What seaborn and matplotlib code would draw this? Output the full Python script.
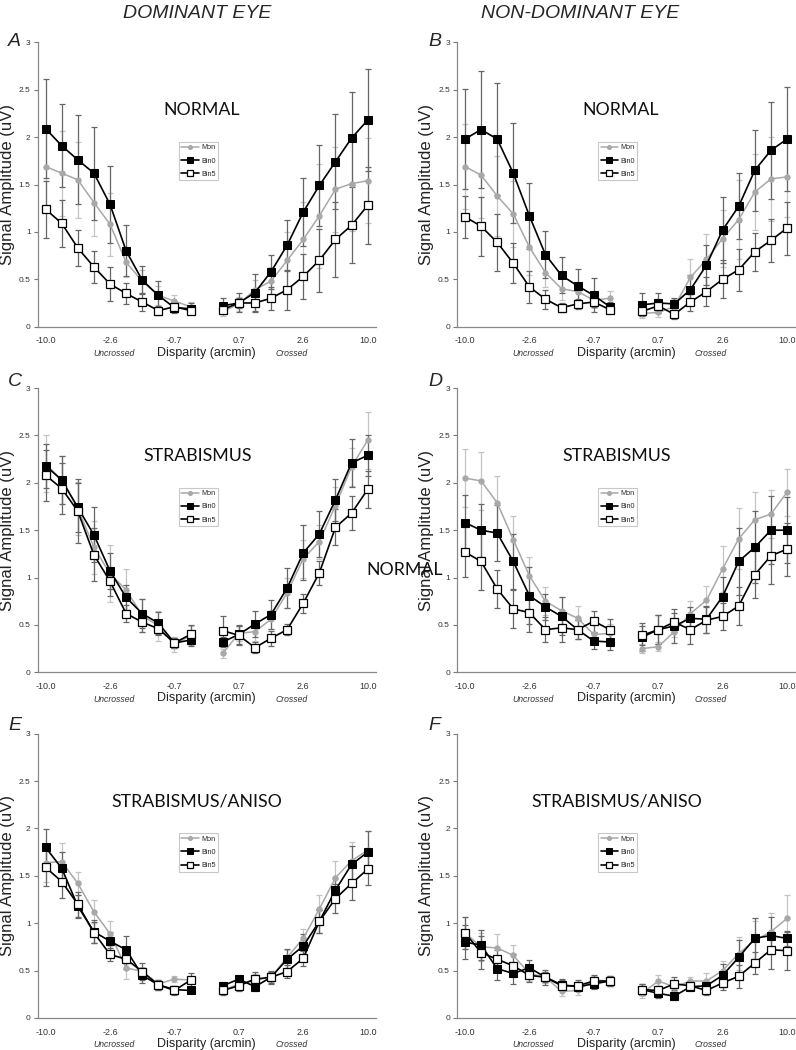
import numpy as np
import pandas as pd
import matplotlib
matplotlib.use("Agg")
import matplotlib.pyplot as plt
import seaborn as sns

# disparity categories: 10 uncrossed, gap, 10 crossed
x_left = list(range(10))
x_right = list(range(11, 21))
tick_pos = [0, 4, 8, 12, 16, 20]
tick_labels = ["-10.0", "-2.6", "-0.7", "0.7", "2.6", "10.0"]
series = ["Mon", "Bin0", "Bin5"]

# values: first 10 = uncrossed, last 10 = crossed
A_mon = [1.69, 1.62, 1.55, 1.31, 1.08, 0.68, 0.48, 0.33, 0.27, 0.21, 0.16, 0.24, 0.39, 0.48, 0.70, 0.92, 1.17, 1.45, 1.51, 1.54]
A_mon_err = [0.42, 0.45, 0.40, 0.35, 0.33, 0.16, 0.12, 0.10, 0.06, 0.05, 0.05, 0.07, 0.10, 0.15, 0.30, 0.40, 0.55, 0.45, 0.50, 0.45]
A_bin0 = [2.09, 1.91, 1.76, 1.62, 1.29, 0.80, 0.49, 0.33, 0.20, 0.19, 0.22, 0.25, 0.36, 0.58, 0.86, 1.21, 1.49, 1.74, 1.99, 2.18]
A_bin0_err = [0.52, 0.44, 0.47, 0.49, 0.41, 0.27, 0.15, 0.15, 0.06, 0.06, 0.08, 0.10, 0.20, 0.18, 0.27, 0.36, 0.43, 0.50, 0.49, 0.54]
A_bin5 = [1.24, 1.09, 0.83, 0.63, 0.45, 0.35, 0.26, 0.17, 0.21, 0.17, 0.18, 0.25, 0.25, 0.30, 0.39, 0.53, 0.70, 0.92, 1.07, 1.28]
A_bin5_err = [0.30, 0.25, 0.19, 0.17, 0.18, 0.11, 0.09, 0.05, 0.05, 0.04, 0.05, 0.05, 0.10, 0.12, 0.21, 0.24, 0.33, 0.40, 0.40, 0.41]

B_mon = [1.69, 1.60, 1.38, 1.19, 0.84, 0.57, 0.40, 0.37, 0.28, 0.30, 0.14, 0.15, 0.21, 0.52, 0.71, 0.93, 1.13, 1.42, 1.56, 1.58]
B_mon_err = [0.45, 0.45, 0.42, 0.35, 0.30, 0.15, 0.12, 0.10, 0.08, 0.08, 0.05, 0.05, 0.08, 0.19, 0.27, 0.30, 0.42, 0.40, 0.44, 0.42]
B_bin0 = [1.98, 2.08, 1.98, 1.62, 1.17, 0.76, 0.54, 0.43, 0.33, 0.21, 0.23, 0.25, 0.24, 0.39, 0.65, 1.02, 1.27, 1.65, 1.86, 1.98]
B_bin0_err = [0.53, 0.62, 0.59, 0.53, 0.35, 0.25, 0.19, 0.18, 0.18, 0.05, 0.12, 0.11, 0.06, 0.16, 0.21, 0.35, 0.35, 0.43, 0.51, 0.55]
B_bin5 = [1.16, 1.06, 0.89, 0.67, 0.42, 0.29, 0.20, 0.24, 0.26, 0.18, 0.16, 0.22, 0.13, 0.26, 0.37, 0.50, 0.60, 0.79, 0.91, 1.04]
B_bin5_err = [0.22, 0.31, 0.30, 0.21, 0.17, 0.10, 0.05, 0.05, 0.05, 0.04, 0.05, 0.07, 0.05, 0.10, 0.15, 0.20, 0.22, 0.20, 0.23, 0.28]

C_mon = [2.20, 2.03, 1.73, 1.32, 1.04, 0.87, 0.60, 0.49, 0.29, 0.39, 0.20, 0.41, 0.43, 0.56, 0.84, 1.20, 1.38, 1.76, 2.17, 2.45]
C_mon_err = [0.30, 0.25, 0.28, 0.28, 0.30, 0.22, 0.17, 0.16, 0.08, 0.10, 0.05, 0.08, 0.10, 0.10, 0.16, 0.20, 0.18, 0.20, 0.20, 0.30]
C_bin0 = [2.18, 2.03, 1.74, 1.45, 1.07, 0.79, 0.62, 0.52, 0.31, 0.34, 0.32, 0.40, 0.51, 0.61, 0.89, 1.26, 1.46, 1.82, 2.21, 2.29]
C_bin0_err = [0.23, 0.25, 0.26, 0.29, 0.19, 0.13, 0.15, 0.12, 0.05, 0.06, 0.05, 0.10, 0.14, 0.15, 0.21, 0.29, 0.24, 0.22, 0.25, 0.22]
C_bin5 = [2.08, 1.94, 1.70, 1.24, 0.96, 0.62, 0.53, 0.46, 0.31, 0.40, 0.44, 0.39, 0.26, 0.36, 0.45, 0.73, 1.05, 1.53, 1.68, 1.93]
C_bin5_err = [0.27, 0.27, 0.34, 0.28, 0.15, 0.09, 0.10, 0.07, 0.05, 0.10, 0.15, 0.10, 0.06, 0.08, 0.06, 0.10, 0.13, 0.19, 0.18, 0.20]

D_mon = [2.05, 2.02, 1.79, 1.40, 1.02, 0.75, 0.65, 0.57, 0.40, 0.41, 0.25, 0.27, 0.43, 0.62, 0.76, 1.09, 1.41, 1.61, 1.67, 1.90]
D_mon_err = [0.31, 0.31, 0.28, 0.25, 0.20, 0.15, 0.14, 0.13, 0.10, 0.10, 0.05, 0.05, 0.06, 0.13, 0.15, 0.24, 0.32, 0.29, 0.25, 0.25]
D_bin0 = [1.58, 1.50, 1.47, 1.17, 0.81, 0.69, 0.59, 0.45, 0.33, 0.32, 0.37, 0.45, 0.49, 0.57, 0.56, 0.80, 1.17, 1.32, 1.50, 1.50]
D_bin0_err = [0.29, 0.28, 0.30, 0.29, 0.30, 0.14, 0.20, 0.10, 0.08, 0.08, 0.15, 0.15, 0.18, 0.12, 0.14, 0.21, 0.35, 0.38, 0.36, 0.35]
D_bin5 = [1.27, 1.17, 0.88, 0.67, 0.63, 0.45, 0.47, 0.45, 0.54, 0.45, 0.39, 0.45, 0.53, 0.45, 0.55, 0.59, 0.70, 1.03, 1.23, 1.30]
D_bin5_err = [0.26, 0.30, 0.20, 0.20, 0.20, 0.13, 0.15, 0.10, 0.11, 0.11, 0.10, 0.15, 0.10, 0.15, 0.14, 0.14, 0.20, 0.25, 0.30, 0.28]

E_mon = [1.64, 1.65, 1.42, 1.12, 0.89, 0.53, 0.49, 0.36, 0.41, 0.40, 0.29, 0.36, 0.40, 0.43, 0.64, 0.84, 1.15, 1.48, 1.66, 1.77]
E_mon_err = [0.20, 0.20, 0.12, 0.12, 0.13, 0.12, 0.05, 0.04, 0.03, 0.03, 0.04, 0.05, 0.06, 0.05, 0.08, 0.10, 0.15, 0.18, 0.20, 0.20]
E_bin0 = [1.80, 1.58, 1.18, 0.91, 0.81, 0.72, 0.45, 0.35, 0.30, 0.29, 0.34, 0.41, 0.33, 0.43, 0.62, 0.76, 1.02, 1.35, 1.62, 1.75]
E_bin0_err = [0.19, 0.17, 0.12, 0.12, 0.10, 0.14, 0.08, 0.05, 0.04, 0.03, 0.04, 0.04, 0.05, 0.07, 0.11, 0.13, 0.12, 0.13, 0.19, 0.22]
E_bin5 = [1.59, 1.44, 1.20, 0.90, 0.67, 0.62, 0.49, 0.35, 0.29, 0.40, 0.29, 0.34, 0.41, 0.43, 0.49, 0.63, 1.02, 1.26, 1.42, 1.57]
E_bin5_err = [0.20, 0.17, 0.13, 0.11, 0.07, 0.10, 0.09, 0.05, 0.05, 0.07, 0.05, 0.06, 0.07, 0.06, 0.07, 0.08, 0.12, 0.15, 0.18, 0.17]

F_mon = [0.90, 0.75, 0.74, 0.66, 0.47, 0.43, 0.28, 0.29, 0.40, 0.39, 0.26, 0.39, 0.33, 0.39, 0.39, 0.50, 0.68, 0.82, 0.91, 1.05]
F_mon_err = [0.17, 0.15, 0.15, 0.11, 0.08, 0.06, 0.05, 0.05, 0.04, 0.04, 0.05, 0.06, 0.05, 0.04, 0.08, 0.10, 0.17, 0.20, 0.20, 0.25]
F_bin0 = [0.80, 0.77, 0.52, 0.47, 0.53, 0.43, 0.35, 0.33, 0.36, 0.39, 0.30, 0.26, 0.23, 0.33, 0.34, 0.45, 0.64, 0.84, 0.87, 0.84]
F_bin0_err = [0.18, 0.16, 0.12, 0.11, 0.08, 0.08, 0.06, 0.05, 0.05, 0.05, 0.06, 0.05, 0.04, 0.05, 0.05, 0.12, 0.18, 0.22, 0.20, 0.08]
F_bin5 = [0.90, 0.69, 0.62, 0.55, 0.45, 0.43, 0.34, 0.34, 0.39, 0.39, 0.30, 0.29, 0.36, 0.34, 0.29, 0.37, 0.44, 0.58, 0.72, 0.71]
F_bin5_err = [0.17, 0.17, 0.10, 0.12, 0.07, 0.05, 0.06, 0.06, 0.06, 0.05, 0.06, 0.05, 0.07, 0.05, 0.05, 0.07, 0.12, 0.12, 0.20, 0.20]

panels = [
    ("A", "NORMAL", [A_mon, A_bin0, A_bin5], [A_mon_err, A_bin0_err, A_bin5_err]),
    ("B", "NORMAL", [B_mon, B_bin0, B_bin5], [B_mon_err, B_bin0_err, B_bin5_err]),
    ("C", "STRABISMUS", [C_mon, C_bin0, C_bin5], [C_mon_err, C_bin0_err, C_bin5_err]),
    ("D", "STRABISMUS", [D_mon, D_bin0, D_bin5], [D_mon_err, D_bin0_err, D_bin5_err]),
    ("E", "STRABISMUS/ANISO", [E_mon, E_bin0, E_bin5], [E_mon_err, E_bin0_err, E_bin5_err]),
    ("F", "STRABISMUS/ANISO", [F_mon, F_bin0, F_bin5], [F_mon_err, F_bin0_err, F_bin5_err]),
]

sns.set_style("white")
plt.rcParams["font.family"] = ["Liberation Sans", "DejaVu Sans"]

styles = {
    "Mon": dict(color="#a8a8a8", marker="o", markersize=3.8, markerfacecolor="#a8a8a8",
                markeredgecolor="#a8a8a8", linewidth=1.1),
    "Bin0": dict(color="black", marker="s", markersize=6, markerfacecolor="black",
                 markeredgecolor="black", linewidth=1.2),
    "Bin5": dict(color="black", marker="s", markersize=6, markerfacecolor="white",
                 markeredgecolor="black", markeredgewidth=0.9, linewidth=1.2),
}
err_colors = {"Mon": "#c4c4c4", "Bin0": "#666666", "Bin5": "#666666"}

fig = plt.figure(figsize=(7.96, 10.5), dpi=100)
W, H = 796, 1050
lefts = [0.0472, 0.574]
bottoms = [0.6889, 0.3597, 0.0305]
aw, ah = 0.4248, 0.2707

for i, (letter, group, vals, errs) in enumerate(panels):
    ax = fig.add_axes([lefts[i % 2], bottoms[i // 2], aw, ah])
    for name, v, e in zip(series, vals, errs):
        df = pd.DataFrame({"x": x_left + x_right, "y": v, "err": e})
        df["side"] = ["U"] * 10 + ["C"] * 10
        ax.errorbar(df["x"], df["y"], yerr=df["err"], fmt="none",
                    ecolor=err_colors[name], elinewidth=0.9, capsize=2.2,
                    capthick=0.9, zorder=1)
        for k, side in enumerate(["U", "C"]):
            sub = df[df["side"] == side]
            sns.lineplot(data=sub, x="x", y="y", ax=ax, sort=False,
                         label=name if k == 0 else None, zorder=3, **styles[name])

    ax.set_xlim(-0.5, 20.5)
    ax.set_ylim(0, 3)
    ax.set_yticks(np.arange(0, 3.01, 0.5))
    ax.set_yticklabels(["0", "0.5", "1", "1.5", "2", "2.5", "3"])
    ax.set_xticks(tick_pos)
    ax.set_xticklabels(tick_labels)
    ax.set_xticks(np.arange(-0.5, 21, 1), minor=True)
    ax.tick_params(axis="x", which="major", length=0, labelsize=6.5, pad=7, colors="#333333")
    ax.tick_params(axis="x", which="minor", length=3, width=0.8, color="#777777", direction="out")
    ax.tick_params(axis="y", length=3, width=0.8, color="#777777", labelsize=6, pad=2,
                   labelcolor="#333333", left=True)
    for s in ["top", "right"]:
        ax.spines[s].set_visible(False)
    for s in ["left", "bottom"]:
        ax.spines[s].set_color("#888888")
        ax.spines[s].set_linewidth(0.9)

    ax.set_xlabel("")
    ax.set_ylabel("Signal Amplitude (uV)", fontsize=12, labelpad=3, color="#222222")
    ax.annotate("Disparity (arcmin)", xy=(10, -0.092), xycoords=("data", "axes fraction"),
                ha="center", va="center", fontsize=9, color="#222222")
    ax.annotate("Uncrossed", xy=(4.25, -0.094), xycoords=("data", "axes fraction"),
                ha="center", va="center", fontsize=6.2, style="italic", color="#333333")
    ax.annotate("Crossed", xy=(15.25, -0.094), xycoords=("data", "axes fraction"),
                ha="center", va="center", fontsize=6.2, style="italic", color="#333333")

    ax.text(0.485 if i < 2 else 0.472, 0.762, group, transform=ax.transAxes,
            ha="center", va="center", fontsize=12.8, family=["Lato", "DejaVu Sans"],
            color="#111111")

    leg = ax.legend(loc="upper left", bbox_to_anchor=(0.418, 0.65), fontsize=5.2,
                    frameon=True, fancybox=False, handlelength=2.4, handletextpad=0.3,
                    borderpad=0.35, labelspacing=0.85, borderaxespad=0)
    leg.get_frame().set_edgecolor("#bbbbbb")
    leg.get_frame().set_linewidth(0.8)
    for h in leg.legend_handles:
        h.set_markersize(h.get_markersize() * 0.75)

    # panel letter
    lx = 8 if i % 2 == 0 else 428
    ly = [41, 381, 726][i // 2]
    fig.text(lx / W, 1 - ly / H, letter, fontsize=14, style="italic", ha="left", va="center")

fig.text(197 / W, 1 - 13 / H, "DOMINANT EYE", fontsize=14, style="italic", ha="center", va="center")
fig.text(580 / W, 1 - 13 / H, "NON-DOMINANT EYE", fontsize=14, style="italic", ha="center", va="center")
fig.text(405 / W, 1 - 570 / H, "NORMAL", fontsize=12.8, family=["Lato", "DejaVu Sans"],
         ha="center", va="center", color="#111111")

fig.savefig("out.png", dpi=100)
